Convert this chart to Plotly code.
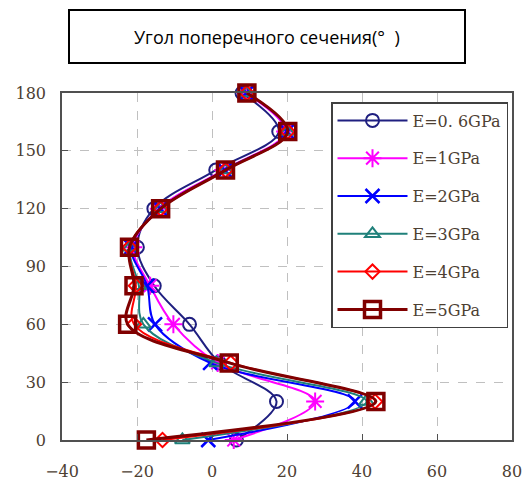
import plotly.graph_objects as go

angles = [0, 20, 40, 60, 80, 100, 120, 140, 160, 180]
names = ["E=0. 6GPa", "E=1GPa", "E=2GPa", "E=3GPa", "E=4GPa", "E=5GPa"]
e06 = [6.5, 17.2, 2.0, -6.0, -15.4, -19.9, -15.5, 1.0, 17.8, 8.0]
e1 = [5.8, 27.5, 1.5, -10.3, -16.5, -21.0, -14.2, 3.0, 19.5, 9.0]
e2 = [-1.0, 38.1, -0.5, -15.2, -17.3, -21.5, -13.8, 3.4, 20.0, 9.2]
e3 = [-7.9, 41.2, 1.2, -18.3, -19.5, -21.8, -13.7, 3.5, 20.1, 9.3]
e4 = [-13.2, 43.5, 5.0, -20.8, -20.3, -22.0, -13.7, 3.6, 20.2, 9.3]
e5 = [-17.5, 43.7, 4.6, -22.5, -20.8, -22.0, -13.7, 3.6, 20.2, 9.3]
series = [e06, e1, e2, e3, e4, e5]
title_text = "Угол поперечного сечения(°  )"
x_ticks = [-40, -20, 0, 20, 40, 60, 80]
y_ticks = [0, 30, 60, 90, 120, 150, 180]

colors = ["#1f1f80", "#ff00ff", "#0000ff", "#1f807a", "#ff0000", "#800000"]
symbols = ["circle-open", "asterisk-open", "x-thin-open", "triangle-up-open", "diamond-open", "square-open"]
msizes = [13, 15, 14, 13, 11, 16]
mwidths = [2, 2, 2.5, 2, 2, 3.5]
lwidths = [2, 2, 2, 2, 2, 3]

fig = go.Figure()
for i, (nm, xs) in enumerate(zip(names, series)):
    fig.add_trace(go.Scatter(
        x=xs, y=angles, name=nm, mode="lines+markers",
        legendgroup=f"g{i}", cliponaxis=False,
        line=dict(color=colors[i], width=lwidths[i], shape="spline", smoothing=1.0),
        marker=dict(symbol=symbols[i], size=msizes[i], color=colors[i],
                    line=dict(color=colors[i], width=mwidths[i])),
    ))

tickfont = dict(family="DejaVu Serif, serif", size=16, color="#4d4033")
fig.update_xaxes(range=[-40, 80], tickvals=x_ticks, ticktext=[("\u2212" + str(-v)) if v < 0 else str(v) for v in x_ticks],
                 showgrid=True, gridcolor="#c0c0c0", griddash="dash", gridwidth=1,
                 zeroline=False, showline=True, linecolor="#505050", linewidth=1.5, mirror=True,
                 ticks="inside", ticklen=6, tickcolor="#505050", tickfont=tickfont,
                 ticklabelstandoff=16, automargin=False)
fig.update_yaxes(range=[0, 180], tickvals=y_ticks,
                 showgrid=True, gridcolor="#c0c0c0", griddash="dash", gridwidth=1,
                 zeroline=False, showline=True, linecolor="#505050", linewidth=1.5, mirror=True,
                 ticks="inside", ticklen=6, tickcolor="#505050", tickfont=tickfont,
                 ticklabelstandoff=11, automargin=False)

fig.add_shape(type="rect", xref="paper", yref="paper",
              x0=(69 - 62) / 450, x1=(465 - 62) / 450,
              y0=(440 - 63) / 347, y1=(440 - 10) / 347,
              line=dict(color="black", width=2), fillcolor="white")
fig.add_annotation(text=title_text, xref="paper", yref="paper",
                   x=(267 - 62) / 450, y=(440 - 37) / 347, showarrow=False,
                   xanchor="center", yanchor="middle",
                   font=dict(family="Open Sans, sans-serif", size=18, color="black"))

fig.update_layout(
    width=531, height=483,
    margin=dict(l=62, r=19, t=93, b=43),
    plot_bgcolor="white", paper_bgcolor="white",
    showlegend=True,
    legend=dict(x=(331 - 62) / 450, y=(440 - 102) / 347, xanchor="left", yanchor="top",
                bordercolor="#404040", borderwidth=1.5, bgcolor="white",
                font=dict(family="DejaVu Serif, serif", size=16, color="#4d4033"),
                tracegroupgap=14, itemwidth=70),
)

fig.write_html("out.html")
